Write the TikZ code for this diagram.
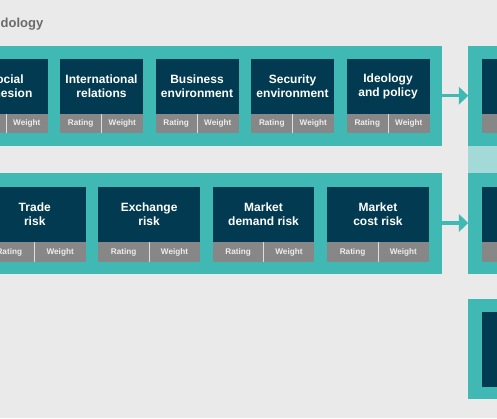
\documentclass[tikz,border=0pt]{standalone}
\usepackage{fontspec}
\setmainfont{Liberation Sans}
\usetikzlibrary{arrows.meta}
\definecolor{bg}{HTML}{EAEAEA}
\definecolor{tealc}{HTML}{40B9B4}
\definecolor{lightteal}{HTML}{A3D9D6}
\definecolor{navy}{HTML}{023B51}
\definecolor{cellgray}{HTML}{878787}
\definecolor{celltext}{HTML}{EDEDED}
\definecolor{titlegray}{HTML}{6A6A6A}
\begin{document}
\begin{tikzpicture}[x=1pt,y=-1pt,
  band/.style={fill=tealc, draw=none, inner sep=0, outer sep=0, anchor=north west},
  lband/.style={fill=lightteal, draw=none, inner sep=0, outer sep=0, anchor=north west},
  dark/.style={fill=navy, draw=none, text=white, font=\bfseries\fontsize{12}{14}\selectfont, align=center, inner sep=0, outer sep=0, anchor=north west},
  cell/.style={fill=cellgray, draw=none, text=celltext, font=\bfseries\fontsize{8.2}{9}\selectfont, inner sep=0, outer sep=0, anchor=north west},
  divider/.style={draw=celltext!85!cellgray, line width=0.8pt},
  flow/.style={draw=tealc, line width=3.3pt, -{Triangle[length=9.5pt,width=17.5pt]}}
]
\useasboundingbox (0,0) rectangle (497,418);
\clip (0,0) rectangle (497,418);
\fill[bg] (0,0) rectangle (497,418);

% title
\node[anchor=base west, font=\bfseries\fontsize{13}{15}\selectfont, text=titlegray, inner sep=0] (title) at (0.5,27.3) {dology};

% left bands
\node[band, minimum width=451.7pt, minimum height=100pt] (band1) at (-10,45.7) {};
\node[band, minimum width=451.7pt, minimum height=101pt] (band2) at (-10,172.5) {};

% right panels
\node[band, minimum width=40pt, minimum height=100pt] (rp1) at (468.3,45.7) {};
\node[lband, minimum width=40pt, minimum height=26.8pt] (rpl) at (468.3,145.7) {};
\node[band, minimum width=40pt, minimum height=101pt] (rp2) at (468.3,172.5) {};
\node[band, minimum width=40pt, minimum height=100.3pt] (rp3) at (468.3,299) {};

\node[dark, minimum width=30pt, minimum height=55pt] (rd1) at (481.7,59) {};
\node[cell, minimum width=30pt, minimum height=19pt] (rg1) at (481.7,114) {};
\node[dark, minimum width=30pt, minimum height=54.4pt] (rd2) at (481.7,187.3) {};
\node[cell, minimum width=30pt, minimum height=20pt] (rg2) at (481.7,241.7) {};
\node[dark, minimum width=30pt, minimum height=75pt] (rd3) at (481.7,311.7) {};

% row 1 factors
\foreach \t [count=\i from 0] in {{Social\\cohesion},{International\\relations},{Business\\environment},{Security\\environment},{Ideology\\and policy}}{
  \pgfmathsetmacro\xx{-35.5+95.5*\i}
  \pgfmathsetmacro\xm{\xx+41.5}
  \node[dark, minimum width=83pt, minimum height=55.5pt] (fa\i) at (\xx,58.5) {\t};
  \node[cell, minimum width=41.5pt, minimum height=19pt] (ra\i) at (\xx,114) {Rating};
  \node[cell, minimum width=41.5pt, minimum height=19pt] (wa\i) at (\xm,114) {Weight};
  \draw[divider] (wa\i.north west) -- (wa\i.south west);
}

% row 2 factors
\foreach \t [count=\i from 0] in {{Trade\\risk},{Exchange\\risk},{Market\\demand risk},{Market\\cost risk}}{
  \pgfmathsetmacro\xx{-16.1+114.4*\i}
  \pgfmathsetmacro\xm{\xx+50.85}
  \node[dark, minimum width=101.7pt, minimum height=55.6pt] (fb\i) at (\xx,186.7) {\t};
  \node[cell, minimum width=50.85pt, minimum height=19.4pt] (rb\i) at (\xx,242.3) {Rating};
  \node[cell, minimum width=50.85pt, minimum height=19.4pt] (wb\i) at (\xm,242.3) {Weight};
  \draw[divider] (wb\i.north west) -- (wb\i.south west);
}

% arrows
\draw[flow] (band1.east) -- (rp1.west);
\draw[flow] (band2.east) -- (rp2.west);
\end{tikzpicture}
\end{document}
